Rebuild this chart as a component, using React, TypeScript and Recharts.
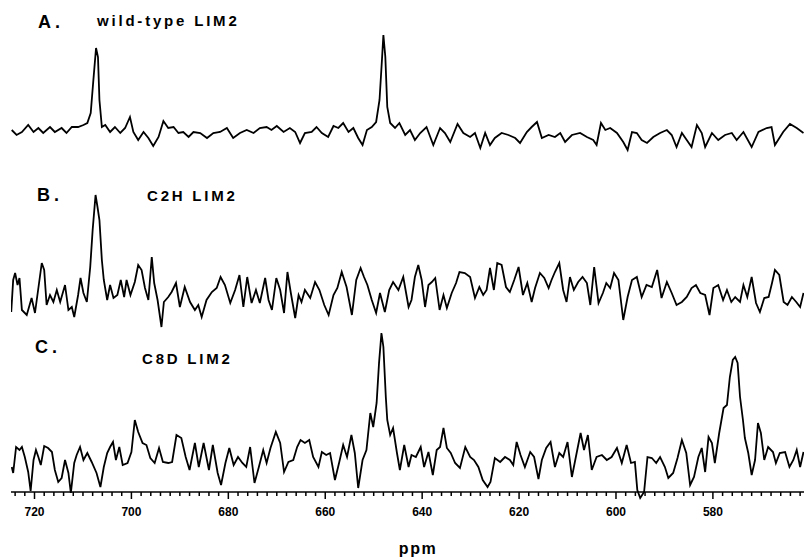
import React from 'react';
import { LineChart, Line, XAxis, YAxis } from 'recharts';

// Spectrum A: wild-type LIM2 (ppm, intensity in arbitrary units)
const ppmA = [724.7,723.7,722.6,721.3,720.2,719.2,718.2,716.8,715.8,714.4,713.4,712.3,711.0,709.9,709.1,708.4,707.9,707.3,706.9,706.6,706.1,705.4,704.4,703.4,702.3,701.3,700.3,699.6,698.6,697.5,696.5,695.5,694.4,693.4,692.4,691.3,690.3,689.3,688.2,687.2,685.8,684.4,683.1,681.7,680.3,679.0,677.6,676.2,674.8,673.5,672.1,671.1,670.0,668.6,667.3,666.2,665.2,664.2,662.8,661.8,660.7,659.4,658.3,657.3,656.3,655.2,654.2,653.2,652.3,651.4,650.4,649.5,648.8,648.3,648.0,647.6,647.2,646.6,645.6,644.7,
643.5,642.5,641.5,640.4,639.1,637.7,636.3,635.3,634.2,632.7,631.5,630.1,629.1,628.0,627.0,626.0,625.0,623.6,622.2,620.8,619.8,618.4,617.4,616.3,615.3,613.9,612.6,611.5,610.5,609.1,607.4,606.0,604.7,604.0,603.1,602.2,601.2,599.8,598.5,597.6,596.7,595.7,594.7,593.6,592.3,590.9,589.5,588.5,587.5,586.4,585.4,584.4,583.3,582.3,581.6,580.2,578.9,577.5,576.1,575.1,573.7,572.0,570.6,568.9,567.9,567.2,565.5,564.1,562.7,561.3];
const intA = [2,-3,0,7,0,4,-1,5,0,4,-1,5,5,7,9,19,49,84,75,32,5,7,0,5,-1,4,15,0,-8,0,-6,-14,-5,11,4,5,-1,0,-5,0,-1,-6,-1,0,4,-6,-1,2,-1,4,5,2,6,0,4,0,-11,-1,0,5,-1,-5,6,4,9,0,4,-6,-13,2,5,10,32,72,97,75,25,9,4,9,
-3,2,-8,-1,5,-13,4,-1,-10,8,-1,-5,-1,-16,-1,-13,-6,-1,-3,-6,-11,0,5,10,-6,-3,-5,-1,-10,-3,-1,-5,-8,-13,9,2,4,-1,-10,-18,0,-1,-8,-11,-5,-1,2,-3,-15,-1,-8,-15,7,-1,-15,-1,-8,-3,-1,-8,0,-15,0,4,5,-13,0,8,4,-1];

// Spectrum B: C2H LIM2
const ppmB = [724.8,724.4,724.0,723.5,723.1,722.6,721.6,720.6,719.9,719.2,718.5,718.0,717.5,716.8,716.1,715.4,714.7,713.7,713.0,712.3,711.8,711.0,710.5,709.9,709.2,708.5,708.0,707.4,707.0,706.6,706.1,705.7,705.0,704.4,703.7,702.9,702.2,701.5,701.0,700.2,699.3,698.6,697.9,697.2,696.5,695.8,695.3,694.6,693.8,693.3,692.4,691.7,690.8,690.0,689.0,687.9,686.9,686.2,685.5,684.5,683.4,682.4,681.6,680.7,679.6,678.6,677.7,676.9,676.1,675.2,674.3,673.5,672.4,671.7,671.0,670.1,669.3,668.5,667.8,667.1,666.2,665.5,664.9,664.2,663.1,662.1,661.2,660.2,659.3,658.3,657.5,656.6,655.6,654.5,653.6,652.7,652.0,651.3,650.4,649.5,648.7,647.7,646.8,646.0,644.9,
643.9,642.8,642.2,641.5,640.8,640.1,639.4,638.7,638.0,637.3,636.4,635.6,634.9,633.9,633.0,632.3,631.2,630.1,629.1,628.2,627.4,626.7,626.0,625.2,624.5,623.6,622.7,621.9,621.0,620.1,619.2,618.3,617.4,616.7,615.7,614.8,613.9,613.3,612.6,611.7,610.9,610.2,609.5,608.7,607.8,606.9,606.0,605.3,604.5,603.6,602.7,602.0,601.2,600.4,599.5,598.5,597.6,596.7,595.7,594.7,593.7,592.6,591.5,590.6,589.5,588.5,587.5,586.4,585.4,584.4,583.5,582.6,581.6,580.7,579.9,578.9,577.9,577.1,576.2,575.4,574.4,573.7,572.9,572.0,571.1,570.3,569.4,568.5,567.8,567.2,566.3,565.4,564.6,563.7,562.8,562.0,561.3];
const intB = [-15,17,24,12,19,-13,-18,-1,-16,9,34,27,-8,2,-5,7,-5,12,-13,-10,-20,2,19,4,-5,30,67,102,90,77,37,17,-3,12,-1,2,17,0,17,2,15,32,27,9,-3,40,14,-3,-30,-5,0,5,14,-10,10,-5,-13,-8,-20,-3,5,9,20,12,-6,7,22,-10,20,-6,7,-6,19,-3,-13,19,7,-16,25,4,-21,2,-5,7,-1,15,7,-8,-18,2,9,25,10,-18,17,29,20,12,-3,-16,4,-15,7,15,7,
20,-10,-3,20,32,17,-10,12,15,19,-13,2,-11,4,14,25,24,20,-1,10,2,7,29,7,34,32,10,5,17,30,2,14,-5,9,24,19,9,17,25,34,7,-5,20,7,15,20,14,-8,30,-6,4,14,9,24,17,-23,0,17,20,0,12,10,27,-1,15,4,-8,-5,0,9,12,4,2,-18,9,12,-3,7,-5,0,-5,12,0,20,-6,-15,-1,0,14,27,22,-5,-8,0,-5,-10,4];

// Spectrum C: C8D LIM2
const ppmC = [724.7,724.4,723.8,723.1,722.6,722.0,721.3,720.8,720.2,719.7,719.2,718.7,718.0,717.2,716.4,715.8,715.1,714.4,713.7,713.0,712.5,711.8,711.3,710.6,709.9,709.1,708.2,707.2,706.4,705.7,705.0,704.4,703.8,703.2,702.5,701.8,700.8,700.0,699.3,698.6,697.7,696.9,696.1,695.2,694.3,693.5,692.4,691.6,690.7,689.7,688.8,688.0,686.9,686.1,685.1,684.0,683.2,682.2,681.5,680.6,679.8,678.9,678.0,677.1,676.3,675.5,674.6,673.7,672.8,672.1,671.3,670.2,669.3,668.5,667.6,666.6,665.8,665.1,664.2,663.3,662.5,661.4,660.7,659.8,659.0,658.0,657.1,656.3,655.5,654.6,653.9,653.2,652.3,651.5,650.7,650.1,649.4,648.9,648.4,648.0,647.5,647.2,646.6,646.0,645.2,
644.6,643.7,642.8,642.2,641.3,640.3,639.6,638.7,637.8,637.0,636.3,635.6,634.9,634.1,633.2,632.2,631.1,630.1,629.3,628.4,627.5,626.5,625.9,625.0,623.9,622.9,621.9,621.2,620.5,619.7,618.8,617.7,616.9,616.0,615.3,614.4,613.5,612.6,611.7,610.9,610.0,609.1,608.2,607.3,606.6,605.8,605.0,604.0,602.9,601.9,600.9,599.8,598.8,597.8,596.9,596.1,595.6,595.0,594.2,593.5,592.6,591.7,590.9,589.9,589.2,588.2,587.3,586.4,585.5,584.7,583.9,583.0,582.3,581.6,580.9,580.2,579.6,578.7,577.8,577.1,576.5,575.9,575.4,574.9,574.4,573.8,573.4,572.7,572.0,571.3,570.7,570.1,569.4,568.6,567.6,567.0,566.2,565.1,564.2,563.4,562.7,562.0,561.3];
const intC = [-7,-13,13,10,13,3,-12,-31,0,10,3,-5,14,12,8,-10,-22,-18,0,-13,-33,-3,5,13,0,7,-2,-13,-27,-7,7,13,18,0,13,-5,-3,8,40,28,17,15,2,-3,12,-2,-3,-2,25,22,3,-10,17,-7,17,-10,15,-13,-25,-3,12,-5,3,-3,-7,13,-23,-7,10,-3,12,28,17,-12,-2,0,13,20,17,20,3,-7,8,5,7,-20,-2,15,3,25,7,-28,0,10,47,33,57,97,127,113,63,40,25,32,7,
-10,15,-7,5,3,13,-7,8,-15,10,13,32,12,7,-3,-8,13,3,0,-7,-20,-27,-22,2,-2,3,0,-5,18,5,-7,8,3,-19,0,12,18,-7,7,3,18,-17,5,27,10,25,-10,3,5,0,3,12,-3,15,-3,-2,-30,-38,-32,3,2,-3,3,-7,-18,-13,2,20,7,-25,-17,3,12,-12,23,17,-3,27,52,55,83,100,103,97,63,40,22,7,-15,0,37,27,0,13,8,-3,7,8,-7,0,10,-7,8];

const ppmTicks = Array.from({ length: 82 }, (_, i) => 562 + i * 2);
const majorLabels = [720, 700, 680, 660, 640, 620, 600, 580];

const titles = [
  { letter: 'A.', name: 'wild-type LIM2' },
  { letter: 'B.', name: 'C2H LIM2' },
  { letter: 'C.', name: 'C8D LIM2' },
];

const zip = (xs: number[], ys: number[]) => xs.map((p, i) => ({ ppm: p, v: ys[i] }));
const dataA = zip(ppmA, intA);
const dataB = zip(ppmB, intB);
const dataC = zip(ppmC, intC);

const FONT = '"Liberation Sans", Arial, sans-serif';
const X_DOMAIN: [number, number] = [561.2, 724.85];
const MARGIN = { top: 0, right: 0, bottom: 0, left: 11 };
const SW = 1.8;

const Tick = (props: any) => {
  const { x, y, payload } = props;
  const val = payload.value;
  const major = majorLabels.includes(val);
  return (
    <g>
      <line x1={x} x2={x} y1={y} y2={y + (major ? 7 : 4)} stroke="#000" strokeWidth={1.5} />
      {major && (
        <text x={x} y={y + 20} textAnchor="middle" dominantBaseline="central" fontFamily={FONT} fontWeight="bold" fontSize={12} fill="#000">
          {val}
        </text>
      )}
    </g>
  );
};

const abs: React.CSSProperties = { position: 'absolute', left: 0, top: 0 };

export default function App() {
  return (
    <div style={{ position: 'absolute', left: 0, top: 0, width: 804, height: 557, background: '#fff' }}>
      <div style={abs}>
        <LineChart width={804} height={557} margin={MARGIN}>
          <XAxis
            type="number"
            dataKey="ppm"
            domain={X_DOMAIN}
            reversed
            allowDataOverflow
            ticks={ppmTicks}
            interval={0}
            tickLine={false}
            tickSize={0}
            tickMargin={0}
            tick={<Tick />}
            axisLine={{ stroke: '#000', strokeWidth: 1.5 }}
            height={65}
          />
          <YAxis yAxisId="a" hide domain={[-360, 132]} allowDataOverflow />
          <YAxis yAxisId="b" hide domain={[-195, 297]} allowDataOverflow />
          <Line yAxisId="a" data={dataA} dataKey="v" type="linear" stroke="#000" strokeWidth={SW} dot={false} isAnimationActive={false} />
          <Line yAxisId="b" data={dataB} dataKey="v" type="linear" stroke="#000" strokeWidth={SW} dot={false} isAnimationActive={false} />
        </LineChart>
      </div>
      <div style={abs}>
        <LineChart width={804} height={557} margin={MARGIN}>
          <XAxis type="number" dataKey="ppm" domain={X_DOMAIN} reversed allowDataOverflow hide />
          <YAxis yAxisId="c" hide domain={[-97, 460]} allowDataOverflow />
          <Line yAxisId="c" data={dataC} dataKey="v" type="linear" stroke="#000" strokeWidth={SW} dot={false} isAnimationActive={false} />
        </LineChart>
      </div>
      <svg width={804} height={557} style={{ ...abs, pointerEvents: 'none' }}>
        <g fontFamily={FONT} fontWeight="bold" fill="#000">
          <text x={38} y={22} fontSize={18} dominantBaseline="central" style={{ letterSpacing: 4 }}>{titles[0].letter}</text>
          <text x={97} y={20} fontSize={15} dominantBaseline="central" style={{ letterSpacing: 2.8 }}>{titles[0].name}</text>
          <text x={37} y={195} fontSize={18} dominantBaseline="central" style={{ letterSpacing: 4 }}>{titles[1].letter}</text>
          <text x={147} y={195} fontSize={15} dominantBaseline="central" style={{ letterSpacing: 2.8 }}>{titles[1].name}</text>
          <text x={35} y={347} fontSize={18} dominantBaseline="central" style={{ letterSpacing: 4 }}>{titles[2].letter}</text>
          <text x={142} y={358} fontSize={15} dominantBaseline="central" style={{ letterSpacing: 2.8 }}>{titles[2].name}</text>
          <text x={418} y={548} fontSize={16} textAnchor="middle" dominantBaseline="central" style={{ letterSpacing: 1.5 }}>ppm</text>
        </g>
      </svg>
    </div>
  );
}
